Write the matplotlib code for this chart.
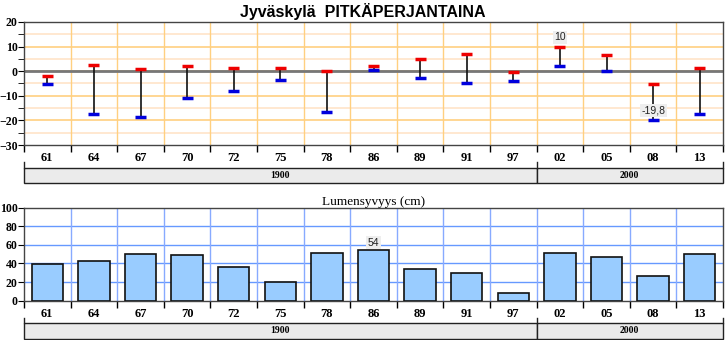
import matplotlib
matplotlib.use('Agg')
import matplotlib.pyplot as plt
import matplotlib.transforms as mtransforms
from matplotlib.patches import Rectangle
from matplotlib.ticker import MultipleLocator
import numpy as np

years = ['61', '64', '67', '70', '72', '75', '78', '86', '89', '91', '97',
         '02', '05', '08', '13']
decades = ['1900', '2000']
decade_counts = [11, 4]
temp_max = [-1.8, 2.4, 0.7, 2.0, 1.2, 1.2, 0.0, 2.0, 4.8, 6.9, -0.4,
            10.0, 6.5, -5.3, 1.2]
temp_min = [-5.4, -17.4, -18.7, -10.7, -8.1, -3.4, -16.4, 0.4, -2.6, -4.9, -4.1,
            2.0, 0.0, -19.8, -17.2]
snow_depth = [39, 43, 50, 49, 36, 20, 51, 54, 34, 30, 8, 51, 47, 26, 50]

W, H = 726, 340
SERIF = 'Liberation Serif'
SANS = 'Liberation Sans'


def frac(left, top, right, bottom):
    return [left / W, 1 - bottom / H, (right - left) / W, (bottom - top) / H]


def category_axis(ax, vgrid_color, px_height):
    n = len(years)
    x = np.arange(n)
    ax.set_xlim(-0.5, n - 0.5)
    ax.set_xticks(x)
    ax.set_xticklabels(years, fontfamily=SERIF, fontweight='bold', fontsize=9)
    ax.set_xticks(np.arange(n + 1) - 0.5, minor=True)
    ax.tick_params(axis='x', which='major', length=0, pad=5)
    ax.tick_params(axis='x', which='minor', length=5, width=1, direction='out')
    for b in np.arange(1, n) - 0.5:
        ax.axvline(b, color=vgrid_color, lw=1, zorder=0)
    # decade group boxes under the category labels
    trans = mtransforms.blended_transform_factory(ax.transData, ax.transAxes)
    y_bracket = -17 / px_height
    y_top = -22.5 / px_height
    y_bot = -38 / px_height
    start = -0.5
    edges = [start]
    for name, cnt in zip(decades, decade_counts):
        r = Rectangle((start, y_bot), cnt, y_top - y_bot, transform=trans,
                      facecolor='#ebebeb', edgecolor='#222222', lw=1, clip_on=False)
        ax.add_patch(r)
        ax.text(start + cnt / 2, (y_top + y_bot) / 2, name, transform=trans,
                ha='center', va='center', fontfamily=SERIF, fontweight='bold',
                fontsize=7)
        start += cnt
        edges.append(start)
    for e in edges:
        ax.plot([e, e], [y_bracket, y_top], transform=trans, color='#222222',
                lw=1, clip_on=False)
    for sp in ax.spines.values():
        sp.set_color('#444444')
        sp.set_linewidth(1)


def label_box(ax, x, y, s):
    ax.text(x, y, s, ha='center', va='bottom', fontsize=7.5, fontfamily=SANS,
            color='#222222',
            bbox=dict(boxstyle='square,pad=0.15', facecolor='#eeeeee',
                      edgecolor='none'), zorder=6)


fig = plt.figure(figsize=(W / 100, H / 100), dpi=100)
fig.text(0.5, 1 - 11 / H, 'Jyväskylä  PITKÄPERJANTAINA', ha='center',
         va='center', fontfamily=SANS, fontweight='bold', fontsize=11.5)

# top chart: temperature range
ax1 = fig.add_axes(frac(24, 22, 723, 145))
x = np.arange(len(years))
ax1.set_ylim(-30, 20)
ax1.yaxis.set_major_locator(MultipleLocator(10))
ax1.yaxis.set_minor_locator(MultipleLocator(5))
for v in range(-25, 20, 5):
    ax1.axhline(v, color='#ffd080' if v % 10 == 0 else '#ffe4c8', lw=1.2,
                zorder=0)
ax1.axhline(0, color='#777777', lw=2, zorder=1)
ax1.tick_params(axis='y', which='major', length=4, labelsize=8.5, pad=0.5)
ax1.tick_params(axis='y', which='minor', length=4)
for lab in ax1.get_yticklabels():
    lab.set_fontfamily(SERIF)
    lab.set_fontweight('bold')
category_axis(ax1, '#ffd080', 123)
ax1.vlines(x, temp_min, temp_max, color='#111111', lw=1.2, zorder=3)
ax1.hlines(temp_max, x - 0.12, x + 0.12, color='#ee0000', lw=2.5, zorder=4)
ax1.hlines(temp_min, x - 0.12, x + 0.12, color='#0000dd', lw=2.5, zorder=4)
i_max = int(np.argmax(temp_max))
i_min = int(np.argmin(temp_min))
label_box(ax1, i_max, temp_max[i_max] + 1.8, f'{temp_max[i_max]:g}')
label_box(ax1, i_min, temp_min[i_min] + 1.8,
          f'{temp_min[i_min]:g}'.replace('.', ','))

# bottom chart: snow depth
ax2 = fig.add_axes(frac(24, 207.5, 723, 300.7))
ax2.set_ylim(0, 100)
ax2.yaxis.set_major_locator(MultipleLocator(20))
for v in range(20, 100, 20):
    ax2.axhline(v, color='#6699ff', lw=1, zorder=0)
ax2.tick_params(axis='y', which='major', length=4, labelsize=8.5, pad=0.5)
for lab in ax2.get_yticklabels():
    lab.set_fontfamily(SERIF)
    lab.set_fontweight('bold')
category_axis(ax2, '#88aaff', 93.2)
ax2.bar(x, snow_depth, width=0.67, color='#99ccff', edgecolor='#111111',
        lw=1.2, zorder=3)
i_snow = int(np.argmax(snow_depth))
label_box(ax2, i_snow, snow_depth[i_snow] + 3, str(snow_depth[i_snow]))
ax2.set_title('Lumensyvyys (cm)', fontfamily=SERIF, fontsize=9.5, pad=2)

fig.savefig('out.png', dpi=100)
